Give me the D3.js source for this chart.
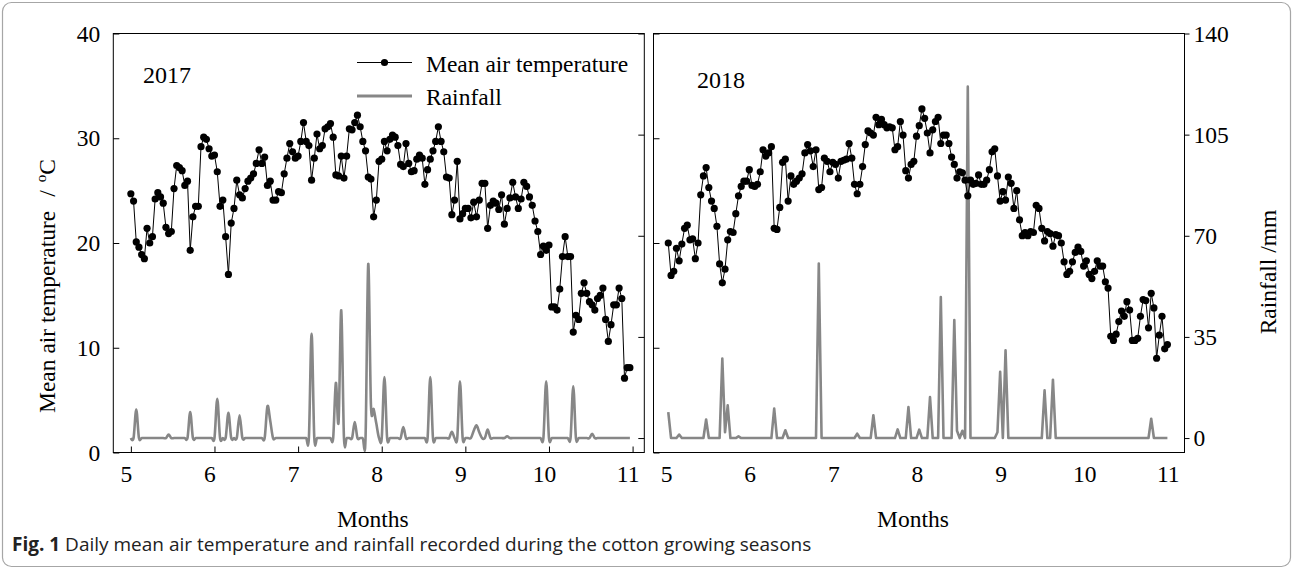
<!DOCTYPE html>
<html>
<head>
<meta charset="utf-8">
<script src="https://cdn.jsdelivr.net/npm/d3@7"></script>
<style>
  body { margin: 0; background: #fff; }
  svg text { font-family: "Liberation Serif", "Times New Roman", serif; fill: #000; }
  svg text.caption { font-family: "Open Sans", "Noto Sans", sans-serif; fill: #222; }
</style>
</head>
<body>
<svg id="chart" width="1293" height="569"></svg>
<script>
// axis ticks
const monthTicks = [5, 6, 7, 8, 9, 10, 11];
const tempTicks = [0, 10, 20, 30, 40];
const rainTicks = [0, 35, 70, 105, 140];

// first day of each daily series [year, month, day]
const start2017 = [2017, 5, 1];
const start2018 = [2018, 4, 30];

// daily mean air temperature (°C)
const temp2017 = [
  24.7, 24.0, 20.1, 19.6, 18.9, 18.5, 21.4, 20.0, 20.6, 24.2, 24.8, 24.4, 23.8, 21.5, 20.9, 21.1,
  25.2, 27.4, 27.2, 26.9, 25.5, 25.9, 19.3, 22.5, 23.5, 23.5, 29.2, 30.1, 29.9, 29.0, 28.3,
  28.4, 26.8, 23.5, 24.1, 20.6, 17.0, 21.9, 23.3, 26.0, 24.6, 24.3, 25.2, 25.9, 26.2, 26.6,
  27.6, 28.9, 27.6, 28.2, 25.5, 25.9, 24.1, 24.1, 24.9, 24.8, 26.6, 28.1, 29.5, 28.7, 28.1,
  28.3, 29.7, 31.5, 29.7, 29.3, 26.0, 28.1, 30.4, 29.0, 29.3, 30.9, 31.1, 31.4, 30.1, 26.5, 26.4,
  28.3, 26.2, 28.3, 30.9, 30.8, 31.5, 32.2, 31.1, 29.7, 28.8, 26.3, 26.1, 22.5, 24.1, 27.8,
  28.0, 29.7, 28.8, 29.9, 30.3, 30.1, 29.3, 27.5, 27.3, 29.5, 27.6, 26.8, 26.9, 28.0, 28.4, 28.1,
  25.6, 27.0, 28.0, 28.8, 29.7, 31.1, 29.7, 28.7, 26.3, 26.2, 22.7, 24.1, 27.8, 22.3, 22.8,
  23.3, 23.3, 22.4, 23.9, 22.5, 24.1, 25.7, 25.7, 21.4, 23.6, 24.0, 23.8, 23.2, 24.6, 21.8,
  23.3, 24.3, 25.8, 24.4, 23.3, 24.2, 25.8, 25.4, 24.4, 23.6, 22.1, 21.1, 18.9, 19.7, 19.3,
  19.8, 13.9, 13.9, 13.6, 15.6, 18.7, 20.6, 18.7, 18.7, 11.5, 13.1, 12.7, 15.2, 16.2, 15.2, 14.4,
  14.1, 13.6, 14.7, 15.0, 15.7, 12.7, 10.6, 12.2, 14.1, 14.1, 15.7, 14.7, 7.1, 8.1, 8.1
];
const temp2018 = [
  20.0, 16.9, 17.3, 19.5, 18.3, 19.9, 21.4, 21.7, 20.3, 20.4, 18.5, 20.0, 24.6, 26.4, 27.2,
  25.3, 24.0, 23.3, 21.6, 18.0, 16.2, 17.5, 20.3, 21.1, 21.0, 22.8, 24.5, 25.4, 25.9, 25.9,
  27.0, 25.5, 25.4, 25.6, 26.8, 28.9, 28.3, 28.6, 29.2, 21.4, 21.3, 23.4, 27.7, 28.0, 24.0,
  26.4, 25.6, 25.9, 26.2, 26.6, 28.6, 29.4, 28.8, 27.3, 28.9, 25.1, 25.3, 28.1, 27.8, 26.8,
  27.7, 27.5, 26.2, 27.8, 27.9, 28.0, 29.5, 28.1, 25.6, 24.7, 25.6, 27.3, 29.4, 30.7, 30.5,
  30.3, 32.0, 31.3, 31.8, 31.3, 31.0, 31.1, 31.0, 28.9, 29.2, 31.6, 30.3, 26.9, 26.2, 27.5,
  27.8, 30.2, 31.2, 32.8, 31.9, 30.5, 28.6, 30.8, 31.6, 32.0, 29.5, 30.3, 30.3, 29.5, 28.2,
  27.5, 26.2, 26.8, 26.7, 26.0, 24.5, 26.0, 25.6, 25.7, 26.5, 25.6, 25.6, 26.0, 27.0, 28.7,
  29.0, 26.4, 24.0,
  24.9, 24.1, 26.3, 25.7, 23.3, 25.0, 22.2, 20.7, 21.0, 20.7, 21.1, 21.0, 23.6, 23.3, 21.4,
  20.2, 21.1, 20.9, 19.7, 20.8, 20.7, 20.0, 18.2, 17.0, 17.3, 18.2, 19.1, 19.6, 19.2, 17.8,
  18.3, 17.0, 16.6, 17.3, 18.3, 17.8, 17.8, 16.3, 15.7, 11.1, 10.7, 11.3, 12.5, 13.5, 13.0,
  14.4, 13.6, 10.7, 10.7, 10.9, 13.0, 14.6, 14.5, 11.9, 15.2, 13.8, 9.0, 11.2, 13.0, 9.9, 10.3
];

// daily rainfall (mm)
const rain2017 = [
  0, 0, 9.9, 0, 0, 0, 0, 0, 0, 0,
  0, 0, 0, 0, 1.2, 0, 0, 0, 0, 0,
  0, 0, 9.0, 0, 0, 0, 0, 0, 0, 0,
  0, 0, 13.6, 0, 0, 0, 8.7, 0, 0, 0,
  7.9, 0, 0, 0, 0, 0, 0, 0, 0, 0,
  11.0, 6.0, 0, 0, 0, 0, 0, 0, 0, 0,
  0, 0, 0, 0, 0, 0, 36.1, 0, 0, 0,
  0, 0, 0, 0, 0, 19.1, 5.5, 44.2, 0, 0,
  0, 0, 5.5, 0, 0, 0, 0, 60.2, 11.5, 10.0,
  5.0, 0, 0, 21.1, 0, 0, 0, 0, 0, 0,
  3.8, 0, 0, 0, 0, 0, 0, 0, 0, 0,
  21.1, 0, 0, 0, 0, 0, 0, 0, 2.2, 0,
  0, 19.6, 0, 0, 0, 0, 2.5, 4.4, 2.0, 0,
  0, 2.9, 0, 0, 0, 0, 0, 0, 0.6, 0,
  0, 0, 0, 0, 0, 0, 0, 0, 0, 0,
  0, 0, 19.6, 0, 0, 0, 0, 0, 0, 0,
  0, 0, 17.9, 0, 0, 0, 0, 0, 0, 1.5,
  0, 0, 0, 0, 0, 0, 0, 0, 0, 0,
  0, 0, 0, 0
];
const rain2018 = [
  9.0, 0, 0, 0, 1.2, 0, 0, 0, 0, 0,
  0, 0, 0, 0, 6.4, 0, 0, 0, 0, 0,
  27.5, 2.0, 11.3, 0, 0, 0, 0.6, 0, 0, 0,
  0, 0, 0, 0, 0, 0, 0, 0, 0, 10.2,
  0, 0, 0, 2.7, 0, 0, 0, 0, 0, 0,
  0, 0, 0, 0, 0, 60.4, 0, 0, 0, 0,
  0, 0, 0, 0, 0, 0, 0, 0, 0, 1.5,
  0, 0, 0, 0, 0, 7.9, 0, 0, 0, 0,
  0, 0, 0, 0, 3.0, 0, 0, 0, 10.7, 0,
  0, 0, 2.9, 0, 0, 0, 14.2, 0, 0, 0,
  48.8, 0, 0, 0, 0, 40.8, 2.5, 0, 2.5, 0,
  121.6, 0, 0, 0, 0, 0, 0, 0, 0, 0,
  0, 2.0, 22.9, 0, 30.4, 0, 0, 0, 0, 0,
  0, 0, 0, 0, 0, 0, 0, 0, 16.5, 0,
  0, 20.2, 0, 0, 0, 0, 0, 0, 0, 0,
  0, 0, 0, 0, 0, 0, 0, 0, 0, 0,
  0, 0, 0, 0, 0, 0, 0, 0, 0, 0,
  0, 0, 0, 0, 0, 0, 0, 6.7, 0, 0,
  0, 0, 0, 0
];

// month + fraction of month for day i of a series
function monthPos(start, i) {
  const d = new Date(start[0], start[1] - 1, start[2] + i);
  const m = d.getMonth() + 1;
  const dim = new Date(d.getFullYear(), m, 0).getDate();
  return m + (d.getDate() - 1) / dim;
}

const svg = d3.select("#chart");
const plotTop = 33.5, plotBottom = 452.5, panelW = 531;

// outer frame
svg.append("rect")
  .attr("x", 2.5).attr("y", 2.5).attr("width", 1288).attr("height", 564)
  .attr("rx", 9).attr("fill", "#fff").attr("stroke", "#a6a6a6").attr("stroke-width", 1.2);

const yT = d3.scaleLinear().domain([0, 40]).range([plotBottom, plotTop]);
const yR = d3.scaleLinear().domain([-5, 140]).range([plotBottom, plotTop]);

const panels = [
  { year: "2017", left: 113.3, start: start2017, temp: temp2017, rain: rain2017,
    curve: d3.curveCardinal, yearPos: [143, 83], leftLabels: true, bottomTicks: true },
  { year: "2018", left: 653.5, start: start2018, temp: temp2018, rain: rain2018,
    curve: d3.curveLinear, yearPos: [697, 88], leftLabels: false, bottomTicks: false }
];

panels.forEach((p, k) => {
  const x = d3.scaleLinear().domain([4.79, 11.14]).range([p.left, p.left + panelW]);
  const g = svg.append("g");

  const clipId = "clip" + k;
  g.append("clipPath").attr("id", clipId)
    .append("rect").attr("x", p.left).attr("y", plotTop)
    .attr("width", panelW).attr("height", plotBottom - plotTop);

  const tData = p.temp.map((v, i) => ({ x: monthPos(p.start, i), v }));
  const rData = p.rain.map((v, i) => ({ x: monthPos(p.start, i), v }));

  // rainfall
  g.append("path")
    .datum(rData)
    .attr("clip-path", `url(#${clipId})`)
    .attr("fill", "none")
    .attr("stroke", "#878787")
    .attr("stroke-width", 2.6)
    .attr("stroke-linejoin", "round")
    .attr("d", d3.line().curve(p.curve).x(d => x(d.x)).y(d => yR(d.v)));

  // temperature
  g.append("path")
    .datum(tData)
    .attr("fill", "none")
    .attr("stroke", "#000")
    .attr("stroke-width", 1)
    .attr("d", d3.line().x(d => x(d.x)).y(d => yT(d.v)));

  g.selectAll("circle.t")
    .data(tData)
    .join("circle")
    .attr("class", "t")
    .attr("cx", d => x(d.x))
    .attr("cy", d => yT(d.v))
    .attr("r", 3.6)
    .attr("fill", "#000");

  // axes
  const axL = d3.axisLeft(yT).tickValues(tempTicks).tickSizeInner(-6).tickSizeOuter(0).tickPadding(13);
  if (!p.leftLabels) axL.tickFormat("");
  const gl = g.append("g").attr("transform", `translate(${p.left},0)`).call(axL);

  const axR = k === 0
    ? d3.axisRight(yR).tickValues(rainTicks).tickSizeInner(-6).tickSizeOuter(0).tickFormat("")
    : d3.axisRight(yR).tickValues(rainTicks).tickSizeInner(5).tickSizeOuter(0).tickPadding(4);
  const gr = g.append("g").attr("transform", `translate(${p.left + panelW},0)`).call(axR);

  const axB = d3.axisBottom(x).tickValues(monthTicks).tickFormat(d3.format("d"))
    .tickSizeOuter(0).tickSizeInner(p.bottomTicks ? -6 : 0);
  const gb = g.append("g").attr("transform", `translate(0,${plotBottom})`).call(axB);
  gb.selectAll("text").attr("y", 29).attr("dy", 0).attr("dx", -5);

  [gl, gr, gb].forEach(a => {
    a.select(".domain").remove();
    a.selectAll("line").attr("stroke", "#000");
    a.selectAll("text").attr("font-size", 23.5).attr("font-family", "Liberation Serif, serif").attr("fill", "#000");
  });

  // panel frame
  g.append("rect")
    .attr("x", p.left).attr("y", plotTop).attr("width", panelW).attr("height", plotBottom - plotTop)
    .attr("fill", "none").attr("stroke", "#000").attr("stroke-width", 1);

  g.append("text")
    .attr("x", p.yearPos[0]).attr("y", p.yearPos[1])
    .attr("font-size", 24)
    .text(p.year);

  g.append("text")
    .attr("x", p.left + panelW / 2 - 6).attr("y", 527)
    .attr("text-anchor", "middle")
    .attr("font-size", 23.5)
    .text("Months");

  if (k === 0) {
    // legend
    const lg = g.append("g");
    lg.append("line").attr("x1", 357).attr("x2", 412).attr("y1", 62.5).attr("y2", 62.5)
      .attr("stroke", "#000").attr("stroke-width", 1);
    lg.append("circle").attr("cx", 384.5).attr("cy", 62.5).attr("r", 3.6).attr("fill", "#000");
    lg.append("line").attr("x1", 357).attr("x2", 412).attr("y1", 96).attr("y2", 96)
      .attr("stroke", "#878787").attr("stroke-width", 3);
    lg.append("text").attr("x", 426).attr("y", 71.5).attr("font-size", 23.5).text("Mean air temperature");
    lg.append("text").attr("x", 426).attr("y", 104.5).attr("font-size", 23.5).text("Rainfall");
  }
});

// y axis titles
const lt = svg.append("text")
  .attr("transform", "translate(55,413) rotate(-90)")
  .attr("font-size", 23.5);
lt.append("tspan").text("Mean air temperature");
lt.append("tspan").attr("dx", 14).text("/");
lt.append("tspan").attr("dx", 8).attr("dy", -9).attr("font-size", 15).text("o");
lt.append("tspan").attr("dy", 9).text("C");

svg.append("text")
  .attr("transform", "translate(1276,272) rotate(-90)")
  .attr("text-anchor", "middle")
  .attr("font-size", 23.5)
  .text("Rainfall /mm");

// caption
const cap = svg.append("text")
  .attr("class", "caption")
  .attr("x", 12).attr("y", 551)
  .attr("font-size", 19);
cap.append("tspan").attr("font-weight", "bold").text("Fig. 1");
cap.append("tspan").text(" Daily mean air temperature and rainfall recorded during the cotton growing seasons");
</script>
</body>
</html>
